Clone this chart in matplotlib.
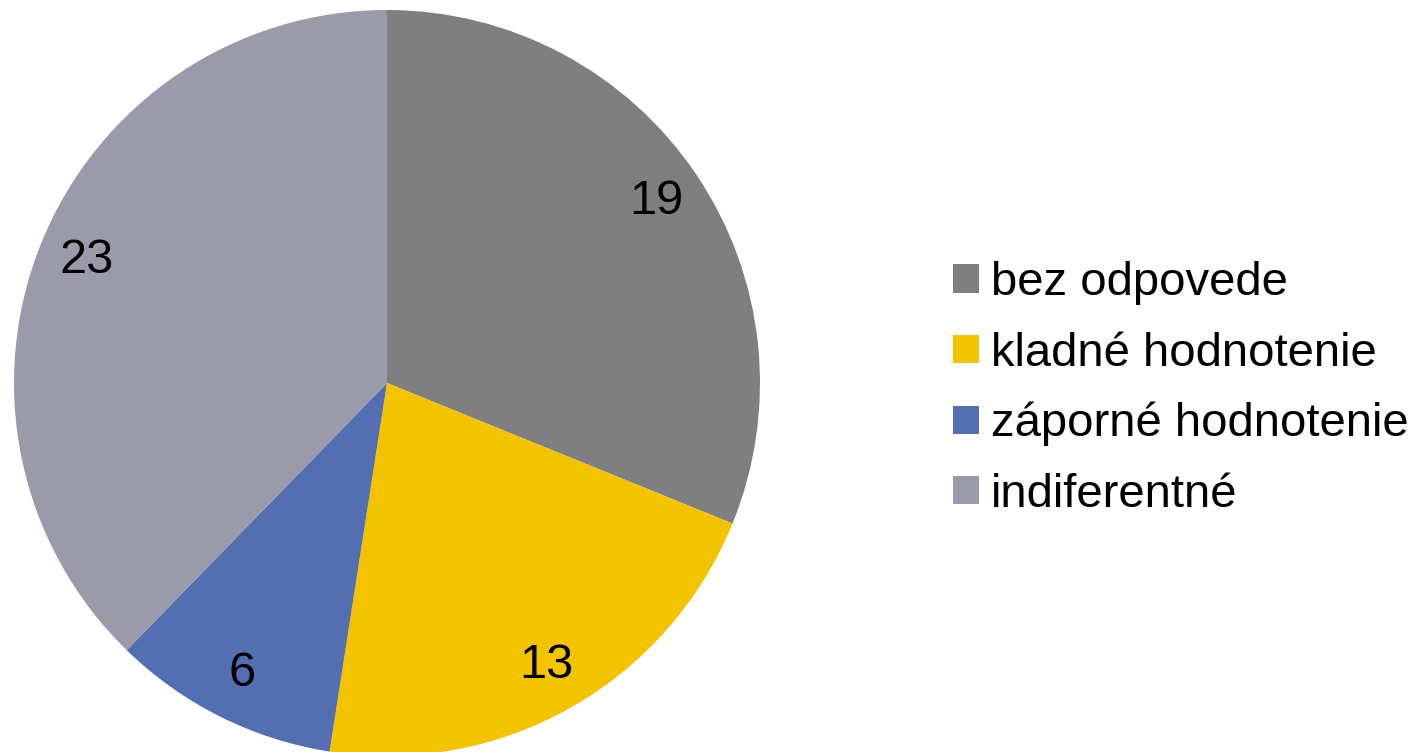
import matplotlib.pyplot as plt
from matplotlib.patches import Patch

# data
categories = ["bez odpovede", "kladné hodnotenie", "záporné hodnotenie", "indiferentné"]
values = [19, 13, 6, 23]
colors = ["#7f7f7f", "#f4c300", "#536fb2", "#9a9aab"]

plt.rcParams['font.family'] = ['Liberation Sans', 'DejaVu Sans']

fig = plt.figure(figsize=(14.18, 7.52), dpi=100)
W, H = 1418, 752
cx, cy, r = 387, 383, 373
ax = fig.add_axes([(cx - r) / W, (H - cy - r) / H, 2 * r / W, 2 * r / H])

ax.pie(values, colors=colors, startangle=90, counterclock=False,
       radius=1, pctdistance=0.87,
       autopct=lambda p: "%d" % round(p * sum(values) / 100),
       textprops={'fontsize': 35, 'color': 'black'},
       wedgeprops={'linewidth': 0})
ax.set_xlim(-1, 1)
ax.set_ylim(-1, 1)
ax.set_aspect('equal')
ax.axis('off')

handles = [Patch(facecolor=c, edgecolor='none') for c in colors]
fig.legend(handles, categories, loc='center left',
           bbox_to_anchor=(953 / W, 1 - 389 / H),
           frameon=False, fontsize=34, borderpad=0, borderaxespad=0,
           handlelength=0.55, handleheight=0.55, handletextpad=0.25,
           labelspacing=0.56)

fig.savefig("out.png", dpi=100)
